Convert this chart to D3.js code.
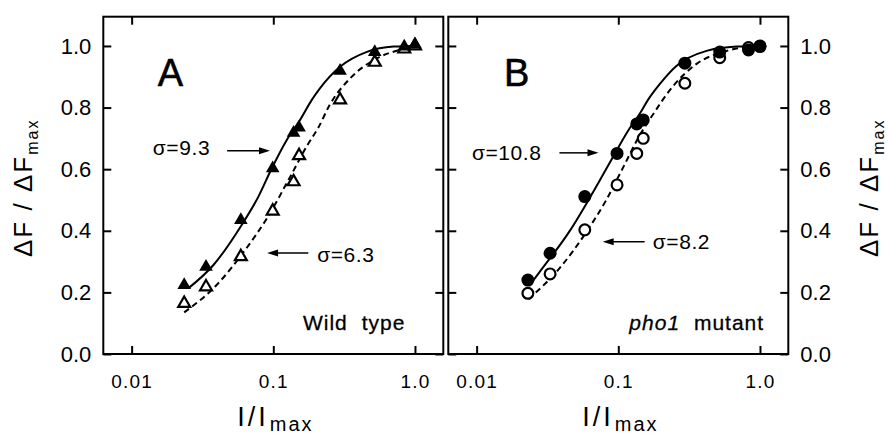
<!DOCTYPE html>
<html>
<head>
<meta charset="utf-8">
<script src="https://cdn.jsdelivr.net/npm/d3@7"></script>
<style>
  body { margin: 0; background: #fff; }
  svg { display: block; font-family: "Liberation Sans", Arial, sans-serif; }
</style>
</head>
<body>
<svg id="chart" width="888" height="437"></svg>
<script>
// ---- data ----
const xA = [0.0235, 0.0335, 0.059, 0.099, 0.139, 0.152, 0.296, 0.52, 0.84, 1.0];
const wildFilled = [0.224, 0.283, 0.435, 0.603, 0.718, 0.735, 0.919, 0.98, 0.998, 1.005];
const wildOpen = [0.164, 0.218, 0.316, 0.464, 0.559, 0.644, 0.825, 0.947, 0.99, 1.0];

const xB = [0.023, 0.033, 0.058, 0.098, 0.135, 0.15, 0.295, 0.52, 0.83, 1.0];
const phoFilled = [0.240, 0.327, 0.511, 0.651, 0.747, 0.760, 0.944, 0.98, 0.987, 0.998];
const phoOpen = [0.197, 0.26, 0.403, 0.549, 0.651, 0.70, 0.879, 0.962, 0.995, 1.0];

// fitted curves
const fitA1x = [0.0251, 0.0378, 0.0598, 0.0785, 0.0976, 0.1245, 0.1546, 0.187, 0.214, 0.297, 0.458, 0.706, 1.0];
const fitA1y = [0.213, 0.289, 0.419, 0.511, 0.603, 0.695, 0.760, 0.825, 0.863, 0.933, 0.981, 0.998, 1.0];
const fitA2x = [0.0235, 0.0398, 0.065, 0.09, 0.1315, 0.1725, 0.208, 0.251, 0.349, 0.54, 0.787, 1.0];
const fitA2y = [0.135, 0.224, 0.345, 0.44, 0.575, 0.675, 0.735, 0.81, 0.895, 0.96, 0.988, 1.0];
const fitB1x = [0.0235, 0.0277, 0.0452, 0.0644, 0.0868, 0.12, 0.1416, 0.162, 0.196, 0.257, 0.42, 0.687, 1.0];
const fitB1y = [0.221, 0.265, 0.398, 0.515, 0.62, 0.732, 0.78, 0.825, 0.876, 0.935, 0.984, 0.998, 1.0];
const fitB2x = [0.0232, 0.0384, 0.0593, 0.0822, 0.108, 0.1416, 0.167, 0.244, 0.357, 0.583, 1.0];
const fitB2y = [0.178, 0.278, 0.395, 0.50, 0.605, 0.71, 0.762, 0.87, 0.942, 0.984, 1.0];

const xTicks = [0.01, 0.1, 1.0];
const xTickLabels = ["0.01", "0.1", "1.0"];
const yTicks = [0, 0.2, 0.4, 0.6, 0.8, 1.0];

const svg = d3.select("#chart");
const plotTop = 16.7, plotBottom = 354;

const y = d3.scaleLinear().domain([0, 1.095]).range([plotBottom, plotTop]);

function panel(left, right, xs, filled, open, fits, marker, opts) {
    const x = d3.scaleLog().domain([Math.pow(10, -2.2), Math.pow(10, 0.2)]).range([left, right]);
    const g = svg.append("g");

    // inward ticks on all four sides
    const fmt = (d, i) => xTickLabels[i];
    const axes = [
        [d3.axisBottom(x).tickValues(xTicks).tickFormat(fmt), `translate(0,${plotBottom})`],
        [d3.axisTop(x).tickValues(xTicks).tickFormat(""), `translate(0,${plotTop})`],
        [d3.axisLeft(y).tickValues(yTicks).tickFormat(opts.leftLabels ? d3.format(".1f") : ""), `translate(${left},0)`],
        [d3.axisRight(y).tickValues(yTicks).tickFormat(opts.rightLabels ? d3.format(".1f") : ""), `translate(${right},0)`]
    ];
    axes.forEach(([ax, tr]) => {
        const a = g.append("g").attr("transform", tr)
            .call(ax.tickSize(-8).tickSizeOuter(0).tickPadding(12));
        a.select(".domain").remove();
        a.selectAll("line").attr("stroke", "#000").attr("stroke-width", 2);
        a.selectAll("text").attr("fill", "#000").attr("font-size", 22)
            .attr("font-family", "Liberation Sans, Arial, sans-serif");
    });
    // bottom labels: letter-spaced
    g.select("g").selectAll("text")
        .attr("font-size", 19).attr("letter-spacing", 1.2)
        .attr("dy", null).attr("y", 34);

    g.append("rect")
        .attr("x", left).attr("y", plotTop)
        .attr("width", right - left).attr("height", plotBottom - plotTop)
        .attr("fill", "none").attr("stroke", "#000").attr("stroke-width", 2);

    const line = d3.line().x(d => x(d[0])).y(d => y(d[1])).curve(d3.curveMonotoneX);
    g.append("path").datum(d3.zip(fits[0], fits[1]))
        .attr("d", line).attr("fill", "none").attr("stroke", "#000").attr("stroke-width", 2);
    g.append("path").datum(d3.zip(fits[2], fits[3]))
        .attr("d", line).attr("fill", "none").attr("stroke", "#000").attr("stroke-width", 2)
        .attr("stroke-dasharray", "6,4");

    const openPts = d3.zip(xs, open);
    const fillPts = d3.zip(xs, filled);
    if (marker === "triangle") {
        const tri = d3.symbol().type(d3.symbolTriangle);
        g.selectAll(".open").data(openPts).join("path")
            .attr("transform", d => `translate(${x(d[0])},${y(d[1])})`)
            .attr("d", tri.size(62)).attr("fill", "#fff").attr("stroke", "#000").attr("stroke-width", 2.2);
        g.selectAll(".filled").data(fillPts).join("path")
            .attr("transform", d => `translate(${x(d[0])},${y(d[1])})`)
            .attr("d", tri.size(80)).attr("fill", "#000");
    } else {
        g.selectAll(".open").data(openPts).join("circle")
            .attr("cx", d => x(d[0])).attr("cy", d => y(d[1])).attr("r", 5.4)
            .attr("fill", "#fff").attr("stroke", "#000").attr("stroke-width", 2.2);
        g.selectAll(".filled").data(fillPts).join("circle")
            .attr("cx", d => x(d[0])).attr("cy", d => y(d[1])).attr("r", 6.5)
            .attr("fill", "#000");
    }

    // panel letter and label
    g.append("text").attr("x", x(opts.letterX)).attr("y", y(0.87))
        .attr("font-size", 38).attr("stroke", "#000").attr("stroke-width", 0.6)
        .text(opts.letter);
    const lab = g.append("text").attr("x", x(opts.labelX)).attr("y", y(0.078))
        .attr("text-anchor", "end").attr("font-size", 21).attr("letter-spacing", 1)
        .attr("word-spacing", 7)
        .attr("stroke", "#000").attr("stroke-width", 0.3);
    opts.label.forEach(p => lab.append("tspan").attr("font-style", p[1]).text(p[0]));

    // sigma annotations with arrows
    opts.notes.forEach(n => {
        g.append("text").attr("x", x(n.tx)).attr("y", y(n.ty))
            .attr("font-size", 21).attr("letter-spacing", 0.6).text(n.text);
        const x1 = x(n.a0), x2 = x(n.a1), yy = y(n.ay);
        const dir = Math.sign(x2 - x1);
        g.append("line").attr("x1", x1).attr("x2", x2 - dir * 9).attr("y1", yy).attr("y2", yy)
            .attr("stroke", "#000").attr("stroke-width", 1.5);
        g.append("path")
            .attr("d", `M${x2},${yy}L${x2 - dir * 11},${yy - 3.5}L${x2 - dir * 11},${yy + 3.5}Z`)
            .attr("fill", "#000");
    });

    // x axis title
    const xt = g.append("text").attr("x", x(0.1) - 36).attr("y", 426);
    xt.append("tspan").attr("font-size", 27).attr("letter-spacing", 3).text("I/I");
    xt.append("tspan").attr("font-size", 20).attr("letter-spacing", 2).attr("dx", 1).attr("dy", 5).text("max");
    return x;
}

panel(103.3, 443.3, xA, wildFilled, wildOpen, [fitA1x, fitA1y, fitA2x, fitA2y], "triangle", {
    leftLabels: true, rightLabels: false, letter: "A", letterX: 0.0153,
    labelX: 0.855, label: [["Wild type", "normal"]],
    notes: [
        { text: "σ=9.3", tx: 0.0141, ty: 0.646, a0: 0.0472, a1: 0.0948, ay: 0.66 },
        { text: "σ=6.3", tx: 0.204, ty: 0.299, a0: 0.1767, a1: 0.0904, ay: 0.328 }
    ]
});
panel(448.3, 788.3, xB, phoFilled, phoOpen, [fitB1x, fitB1y, fitB2x, fitB2y], "circle", {
    leftLabels: false, rightLabels: true, letter: "B", letterX: 0.0156,
    labelX: 1.07, label: [["pho1", "italic"], [" mutant", "normal"]],
    notes: [
        { text: "σ=10.8", tx: 0.00926, ty: 0.63, a0: 0.0384, a1: 0.0725, ay: 0.653 },
        { text: "σ=8.2", tx: 0.175, ty: 0.341, a0: 0.1535, a1: 0.0776, ay: 0.364 }
    ]
});

// y axis titles
[32, 878].forEach(bx => {
    const t = svg.append("text").attr("transform", `translate(${bx},257) rotate(-90)`);
    t.append("tspan").attr("font-size", 26).attr("letter-spacing", 2).text("ΔF / ΔF");
    t.append("tspan").attr("font-size", 16).attr("letter-spacing", 2).attr("dy", 6).text("max");
});
</script>
</body>
</html>
